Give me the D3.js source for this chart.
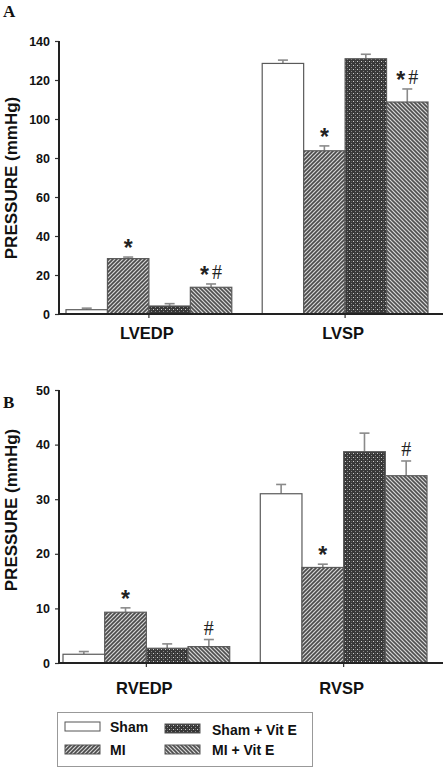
<!DOCTYPE html>
<html><head><meta charset="utf-8">
<script src="https://cdn.jsdelivr.net/npm/d3@7"></script>
<style>
html,body{margin:0;padding:0;background:#fff;}
svg{display:block;font-family:"Liberation Sans",Arial,sans-serif;}
</style></head>
<body><svg id="chart" width="444" height="768"></svg>
<script>
// ---- data ----
const groups = ["Sham", "MI", "Sham + Vit E", "MI + Vit E"];
const catsA = ["LVEDP", "LVSP"];
const catsB = ["RVEDP", "RVSP"];
const ticksA = [0, 20, 40, 60, 80, 100, 120, 140];
const ticksB = [0, 10, 20, 30, 40, 50];
// Panel A means / SEM
const shamA = [2.2, 128.5];
const miA = [28.4, 83.7];
const shamVitEA = [4.1, 130.9];
const miVitEA = [13.7, 108.7];
const shamAErr = [0.8, 1.7];
const miAErr = [0.8, 2.5];
const shamVitEAErr = [1.2, 2.3];
const miVitEAErr = [1.7, 6.7];
// Panel B means / SEM
const shamB = [1.6, 31.0];
const miB = [9.3, 17.5];
const shamVitEB = [2.7, 38.7];
const miVitEB = [3.0, 34.3];
const shamBErr = [0.5, 1.7];
const miBErr = [0.8, 0.6];
const shamVitEBErr = [0.8, 3.4];
const miVitEBErr = [1.3, 2.7];
// significance marks [category][group]
const marksA = [["", "*", "", "*#"], ["", "*", "", "*#"]];
const marksB = [["", "*", "", "#"], ["", "*", "", "#"]];

const svg = d3.select("#chart");
const defs = svg.append("defs");

// patterns
function hatch(id, bg, fg, dir) {
  const p = defs.append("pattern").attr("id", id).attr("patternUnits", "userSpaceOnUse")
    .attr("width", 4).attr("height", 4);
  p.append("rect").attr("width", 4).attr("height", 4).attr("fill", bg);
  const d = dir === "/" ? "M-1,1 l2,-2 M0,4 l4,-4 M3,5 l2,-2" : "M-1,3 l2,2 M0,0 l4,4 M3,-1 l2,2";
  p.append("path").attr("d", d).attr("stroke", fg).attr("stroke-width", 1.6);
}
hatch("pMI", "#d4d4d4", "#4a4a4a", "/");
hatch("pMIE", "#d8d8d8", "#505050", "\\");
{
  const p = defs.append("pattern").attr("id", "pSE").attr("patternUnits", "userSpaceOnUse")
    .attr("width", 4).attr("height", 4);
  p.append("rect").attr("width", 4).attr("height", 4).attr("fill", "#383838");
  p.append("rect").attr("x", 1).attr("y", 1).attr("width", 1).attr("height", 1).attr("fill", "#cfcfcf");
  p.append("rect").attr("x", 3).attr("y", 3).attr("width", 1).attr("height", 1).attr("fill", "#8a8a8a");
  p.append("rect").attr("x", 3).attr("y", 1).attr("width", 1).attr("height", 1).attr("fill", "#5a5a5a");
}
const fills = ["#ffffff", "url(#pMI)", "url(#pSE)", "url(#pMIE)"];

function panel(cfg) {
  const y = d3.scaleLinear().domain([0, cfg.ymax]).range([cfg.y0, cfg.y1]);
  const x0 = d3.scaleBand().domain(cfg.cats).range(cfg.xr).paddingInner(0.155);
  const x1 = d3.scaleBand().domain(groups).range([0, x0.bandwidth()]);
  const g = svg.append("g");

  // y axis
  const ya = g.append("g").attr("transform", `translate(${cfg.axisX},0)`)
    .call(d3.axisLeft(y).tickValues(cfg.ticks).tickSize(4).tickPadding(5).tickSizeOuter(0));
  ya.select(".domain").remove();
  ya.selectAll(".tick line").attr("stroke", "#333").attr("stroke-width", 1.2);
  ya.selectAll(".tick text").attr("font-size", 12.5).attr("font-weight", "bold")
    .attr("font-family", "Liberation Sans, Arial, sans-serif").attr("fill", "#111");

  // bars
  cfg.cats.forEach((c, ci) => {
    groups.forEach((gr, gi) => {
      const v = cfg.vals[gi][ci], e = cfg.errs[gi][ci];
      const bx = x0(c) + x1(gr), bw = x1.bandwidth();
      const cx = bx + bw / 2;
      // error bar
      g.append("line").attr("x1", cx).attr("x2", cx).attr("y1", y(v)).attr("y2", y(v + e))
        .attr("stroke", "#8a8a8a").attr("stroke-width", 1.6);
      g.append("line").attr("x1", cx - 5).attr("x2", cx + 5).attr("y1", y(v + e)).attr("y2", y(v + e))
        .attr("stroke", "#8a8a8a").attr("stroke-width", 1.6);
      g.append("rect").attr("x", bx).attr("y", y(v)).attr("width", bw).attr("height", y(0) - y(v))
        .attr("fill", fills[gi]).attr("stroke", "#5a5a5a").attr("stroke-width", 1.2);
      const m = cfg.marks[ci][gi];
      if (m) {
        const t = g.append("text").attr("x", cx).attr("y", y(v + e) - 5).attr("text-anchor", "middle")
          .attr("fill", "#222");
        let shifted = 0;
        for (const ch of m) {
          if (ch === "*") {
            t.append("tspan").text("*").attr("font-size", 23).attr("font-weight", "bold")
              .attr("dy", 4).attr("font-family", "Liberation Sans, Arial, sans-serif");
            shifted = 4;
          } else {
            t.append("tspan").text("#").attr("font-size", 20).attr("dx", shifted ? 3 : 0).attr("dy", -shifted)
              .attr("font-family", "Liberation Serif, Times New Roman, serif");
            shifted = 0;
          }
        }
      }
    });
    // category tick + label
    const cc = x0(c) + x0.bandwidth() / 2;
    g.append("line").attr("x1", cc).attr("x2", cc).attr("y1", cfg.y0).attr("y2", cfg.y0 + 4)
      .attr("stroke", "#333").attr("stroke-width", 1.2);
    g.append("text").attr("x", cc - 2).attr("y", cfg.labelY).attr("text-anchor", "middle")
      .attr("font-size", 16.5).attr("font-weight", "bold").attr("fill", "#111").text(c);
  });

  // axis lines
  g.append("line").attr("x1", cfg.axisX).attr("x2", cfg.axisX).attr("y1", y(cfg.ymax)).attr("y2", cfg.y0 + 1)
    .attr("stroke", "#222").attr("stroke-width", 2);
  g.append("line").attr("x1", cfg.axisX - 1).attr("x2", 443).attr("y1", cfg.y0).attr("y2", cfg.y0)
    .attr("stroke", "#222").attr("stroke-width", 2);

  // y title
  g.append("text").attr("transform", `translate(17,${cfg.titleY}) rotate(-90)`).attr("text-anchor", "middle")
    .attr("font-size", 17).attr("font-weight", "bold").attr("fill", "#111").text("PRESSURE (mmHg)");
  // panel letter
  g.append("text").attr("x", 3).attr("y", cfg.letterY).attr("font-size", 17).attr("font-weight", "bold")
    .attr("font-family", "Liberation Serif, Times New Roman, serif").attr("fill", "#111").text(cfg.letter);
}

panel({ cats: catsA, vals: [shamA, miA, shamVitEA, miVitEA], errs: [shamAErr, miAErr, shamVitEAErr, miVitEAErr],
  marks: marksA, ymax: 140, ticks: ticksA, y0: 314, y1: 41, xr: [66, 428], axisX: 59,
  labelY: 339, titleY: 178, letter: "A", letterY: 17 });
panel({ cats: catsB, vals: [shamB, miB, shamVitEB, miVitEB], errs: [shamBErr, miBErr, shamVitEBErr, miVitEBErr],
  marks: marksB, ymax: 50, ticks: ticksB, y0: 663, y1: 390, xr: [63, 427], axisX: 59,
  labelY: 694, titleY: 510, letter: "B", letterY: 408 });

// legend
const lg = svg.append("g");
lg.append("rect").attr("x", 57.5).attr("y", 712.5).attr("width", 255).attr("height", 54)
  .attr("fill", "#fff").attr("stroke", "#999").attr("stroke-width", 1);
const legPos = [[65, 722, 110, 732], [65, 745, 110, 755], [165, 724, 212, 735], [165, 745, 212, 755]];
groups.forEach((gr, i) => {
  const [sx, sy, tx, ty] = legPos[i];
  lg.append("rect").attr("x", sx).attr("y", sy).attr("width", 35).attr("height", 9)
    .attr("fill", fills[i]).attr("stroke", "#555").attr("stroke-width", 1);
  lg.append("text").attr("x", tx).attr("y", ty).attr("font-size", 14).attr("font-weight", "bold")
    .attr("fill", "#111").text(gr);
});
</script></body></html>
